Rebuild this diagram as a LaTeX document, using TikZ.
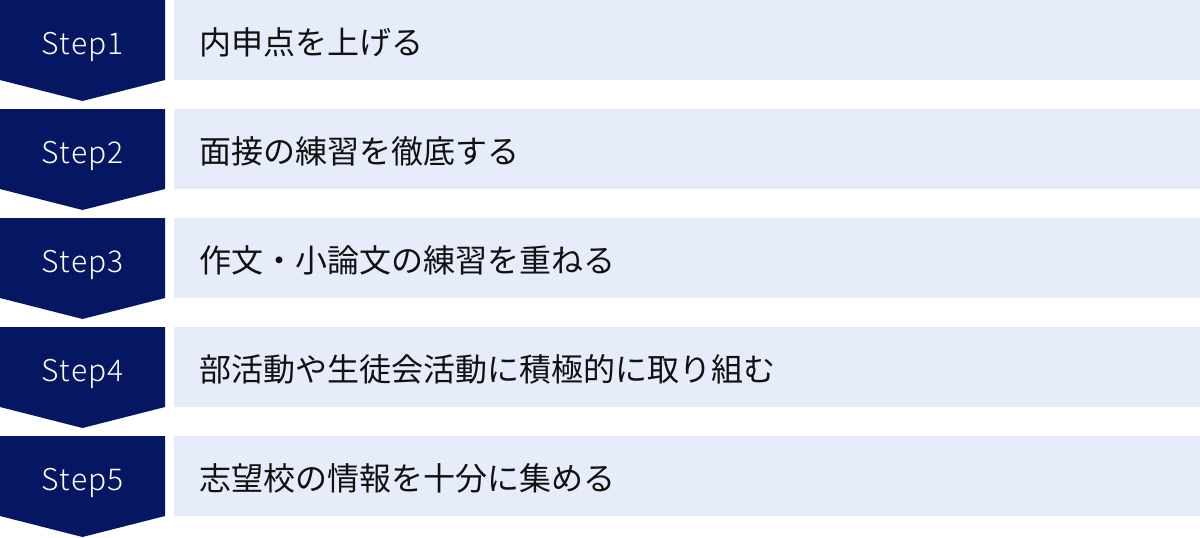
\documentclass[tikz,border=0pt]{standalone}
\usepackage{fontspec}
\setmainfont{Noto Sans CJK JP}
\newfontfamily\stepfont[LetterSpace=4]{Noto Sans CJK JP Light}
\definecolor{navy}{HTML}{051763}
\definecolor{pale}{HTML}{E6ECFA}
\definecolor{ink}{HTML}{111111}
\tikzset{
  stepshape/.style={fill=navy},
  itembox/.style={fill=pale},
  steplabel/.style={text=white, inner sep=0pt, anchor=base, font=\stepfont\fontsize{30}{36}\selectfont},
  itemtext/.style={text=ink, inner sep=0pt, anchor=base west, font=\fontsize{32}{38}\selectfont},
}
\begin{document}
\begin{tikzpicture}[x=1pt,y=-1pt]
\useasboundingbox (0,0) rectangle (1200,538);
\foreach \i/\t in {1/内申点を上げる,2/面接の練習を徹底する,3/作文・小論文の練習を重ねる,4/部活動や生徒会活動に積極的に取り組む,5/志望校の情報を十分に集める} {
  \pgfmathsetmacro\top{(\i-1)*109}
  \fill[itembox] (174,\top) rectangle (1200,\top+80);
  \fill[stepshape] (0,\top) -- (165,\top) -- (165,\top+80) -- (82.5,\top+101) -- (0,\top+80) -- cycle;
  \node[steplabel] (s\i) at (82.8,\top+54) {Step\i};
  \node[itemtext] (t\i) at (199,\top+54) {\t};
}
\end{tikzpicture}
\end{document}
